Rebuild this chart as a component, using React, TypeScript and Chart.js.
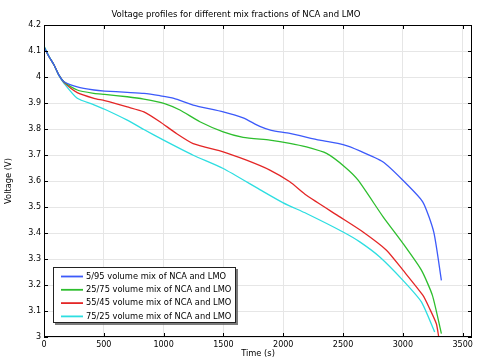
import { useEffect, useRef } from "react";
import { Chart, registerables } from "chart.js";

Chart.register(...registerables);

const chartTitle = "Voltage profiles for different mix fractions of NCA and LMO";
const xAxisTitle = "Time (s)";
const yAxisTitle = "Voltage (V)";

const seriesLabels = [
  "5/95 volume mix of NCA and LMO",
  "25/75 volume mix of NCA and LMO",
  "55/45 volume mix of NCA and LMO",
  "75/25 volume mix of NCA and LMO",
];
const seriesColors = ["rgb(60,90,250)", "rgb(45,190,45)", "rgb(228,38,38)", "rgb(45,222,225)"];

const time5_95 = [0, 42, 84, 125, 167, 278, 418, 507, 696, 835, 969, 1086, 1247, 1498, 1665, 1804, 1900, 2055, 2305, 2500, 2640, 2832, 3000, 3166, 3258, 3322];
const volt5_95 = [4.115, 4.078, 4.046, 4.007, 3.982, 3.962, 3.95, 3.946, 3.941, 3.937, 3.928, 3.918, 3.892, 3.866, 3.843, 3.81, 3.795, 3.783, 3.757, 3.74, 3.716, 3.674, 3.603, 3.52, 3.404, 3.218];

const time25_75 = [0, 42, 84, 125, 167, 278, 418, 507, 696, 835, 1008, 1136, 1303, 1498, 1665, 1888, 2055, 2194, 2362, 2515, 2626, 2835, 3002, 3155, 3247, 3322];
const volt25_75 = [4.115, 4.078, 4.046, 4.007, 3.982, 3.95, 3.937, 3.933, 3.924, 3.915, 3.898, 3.873, 3.828, 3.789, 3.768, 3.757, 3.745, 3.731, 3.706, 3.654, 3.603, 3.462, 3.359, 3.257, 3.16, 3.013];

const time55_45 = [0, 42, 84, 125, 167, 278, 418, 507, 696, 835, 969, 1100, 1247, 1498, 1693, 1888, 2055, 2194, 2473, 2667, 2863, 3001, 3168, 3224, 3280, 3300];
const volt55_45 = [4.115, 4.078, 4.046, 4.007, 3.98, 3.94, 3.918, 3.909, 3.885, 3.866, 3.828, 3.785, 3.744, 3.712, 3.68, 3.642, 3.597, 3.545, 3.462, 3.404, 3.334, 3.257, 3.16, 3.109, 3.051, 3.0];

const time75_25 = [0, 42, 84, 125, 167, 278, 418, 507, 696, 835, 1000, 1247, 1498, 1804, 2000, 2194, 2500, 2640, 2807, 3001, 3155, 3266];
const volt75_25 = [4.12, 4.08, 4.046, 4.005, 3.976, 3.918, 3.893, 3.876, 3.834, 3.798, 3.757, 3.699, 3.648, 3.567, 3.516, 3.475, 3.404, 3.366, 3.308, 3.218, 3.135, 3.019];

const xTicks = [0, 500, 1000, 1500, 2000, 2500, 3000, 3500];
const yTicks = [3, 3.1, 3.2, 3.3, 3.4, 3.5, 3.6, 3.7, 3.8, 3.9, 4, 4.1, 4.2];
const xMin = 0;
const xMax = 3578;
const yMin = 3;
const yMax = 4.2;

const FONT = "'DejaVu Sans', sans-serif";

const toPoints = (t: number[], v: number[]) => t.map((x, i) => ({ x, y: v[i] }));

const framePlugin = {
  id: "frameAndLegend",
  afterDraw(chart: any) {
    const { ctx, chartArea } = chart;
    const { left, right, top, bottom } = chartArea;
    const xs = chart.scales.x;
    const ys = chart.scales.y;
    ctx.save();
    ctx.strokeStyle = "#000";
    ctx.lineWidth = 1;
    ctx.beginPath();
    for (const v of xTicks) {
      const px = Math.round(xs.getPixelForValue(v)) + 0.5;
      ctx.moveTo(px, bottom);
      ctx.lineTo(px, bottom - 4);
      ctx.moveTo(px, top);
      ctx.lineTo(px, top + 4);
    }
    for (const v of yTicks) {
      const py = Math.round(ys.getPixelForValue(v)) + 0.5;
      ctx.moveTo(left, py);
      ctx.lineTo(left + 4, py);
      ctx.moveTo(right, py);
      ctx.lineTo(right - 4, py);
    }
    ctx.stroke();
    ctx.strokeRect(Math.round(left) + 0.5, Math.round(top) + 0.5, Math.round(right - left) - 1, Math.round(bottom - top) - 1);

    // legend box
    const bx = 53, by = 267, bw = 183, bh = 56;
    ctx.fillStyle = "rgba(90,90,90,0.8)";
    ctx.fillRect(bx + 2, by + 2, bw, bh);
    ctx.fillStyle = "#fff";
    ctx.fillRect(bx, by, bw, bh);
    ctx.strokeStyle = "#222";
    ctx.strokeRect(bx + 0.5, by + 0.5, bw - 1, bh - 1);
    ctx.font = `8.3px ${FONT}`;
    ctx.textBaseline = "middle";
    ctx.textAlign = "left";
    chart.data.datasets.forEach((ds: any, i: number) => {
      const yy = by + 9.5 + i * 13.3;
      ctx.strokeStyle = ds.borderColor;
      ctx.lineWidth = 1.8;
      ctx.beginPath();
      ctx.moveTo(61, yy);
      ctx.lineTo(83, yy);
      ctx.stroke();
      ctx.fillStyle = "#000";
      ctx.fillText(ds.label, 86, yy);
    });
    ctx.restore();
  },
};

export default function App() {
  const ref = useRef<HTMLCanvasElement | null>(null);
  useEffect(() => {
    if (!ref.current) return;
    const series = [
      toPoints(time5_95, volt5_95),
      toPoints(time25_75, volt25_75),
      toPoints(time55_45, volt55_45),
      toPoints(time75_25, volt75_25),
    ];
    const chart = new Chart(ref.current, {
      type: "line",
      data: {
        datasets: series.map((d, i) => ({
          label: seriesLabels[i],
          data: d,
          borderColor: seriesColors[i],
          backgroundColor: seriesColors[i],
          borderWidth: 1.3,
          pointRadius: 0,
          fill: false,
          tension: 0.2,
        })),
      },
      options: {
        responsive: false,
        animation: false,
        devicePixelRatio: 1,
        layout: { padding: { left: 0, right: 8, top: 0, bottom: 0 } },
        plugins: {
          legend: { display: false },
          tooltip: { enabled: false },
          title: {
            display: true,
            text: chartTitle,
            color: "#000",
            font: { family: FONT, size: 8.5, weight: "normal" },
            padding: { top: 10, bottom: 4.8 },
          },
        },
        scales: {
          x: {
            type: "linear",
            min: xMin,
            max: xMax,
            afterBuildTicks: (s: any) => {
              s.ticks = xTicks.map((v) => ({ value: v }));
            },
            afterFit: (s: any) => {
              s.height = 26;
            },
            ticks: {
              color: "#000",
              font: { family: FONT, size: 8 },
              padding: 3,
              maxRotation: 0,
              callback: (v: any) => String(v),
            },
            grid: { color: "#e6e6e6", drawTicks: false, lineWidth: 1 },
            border: { display: false },
            title: {
              display: true,
              text: xAxisTitle,
              color: "#000",
              font: { family: FONT, size: 8.3 },
              padding: { top: 0, bottom: 4 },
            },
          },
          y: {
            type: "linear",
            min: yMin,
            max: yMax,
            afterBuildTicks: (s: any) => {
              s.ticks = yTicks.map((v) => ({ value: v }));
            },
            afterFit: (s: any) => {
              s.width = 44;
            },
            ticks: {
              color: "#000",
              font: { family: FONT, size: 8 },
              padding: 3,
              callback: (v: any) => String(Math.round(Number(v) * 10) / 10),
            },
            grid: { color: "#e6e6e6", drawTicks: false, lineWidth: 1 },
            border: { display: false },
            title: {
              display: true,
              text: yAxisTitle,
              color: "#000",
              font: { family: FONT, size: 8.3 },
              padding: { top: 4, bottom: 0 },
            },
          },
        },
      },
      plugins: [framePlugin],
    });
    return () => chart.destroy();
  }, []);
  return (
    <div style={{ position: "absolute", left: 0, top: 0, width: 480, height: 363, background: "#fff" }}>
      <canvas ref={ref} width={480} height={363} style={{ display: "block" }} />
    </div>
  );
}
